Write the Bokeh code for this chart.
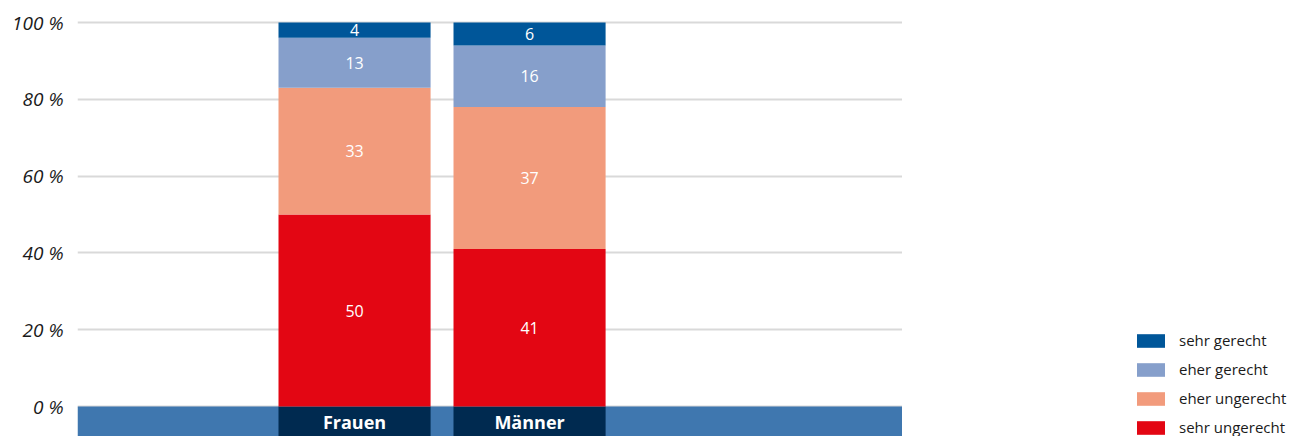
import numpy as np
from bokeh.plotting import figure
from bokeh.layouts import row
from bokeh.models import (ColumnDataSource, Range1d, FixedTicker, PrintfTickFormatter,
                          Legend, LegendItem)
from bokeh.core.properties import value
from bokeh.embed import file_html
from bokeh.resources import INLINE

# ---- data ----
categories = ["Frauen", "Männer"]
sehr_ungerecht = [50, 41]
eher_ungerecht = [33, 37]
eher_gerecht = [13, 16]
sehr_gerecht = [4, 6]
series_names = ["sehr ungerecht", "eher ungerecht", "eher gerecht", "sehr gerecht"]
series_colors = ["#E30613", "#F29B7C", "#869FCB", "#005699"]
y_ticks = [0, 20, 40, 60, 80, 100]

FONT = "Open Sans"
band_bottom = -7.81
x_start, x_end = -1.583, 3.131
bar_w = 0.869

xs = np.arange(len(categories))
src = ColumnDataSource(dict(
    x=xs,
    s0=sehr_ungerecht, s1=eher_ungerecht, s2=eher_gerecht, s3=sehr_gerecht,
))

p = figure(width=902, height=436, output_backend="svg", toolbar_location=None,
           x_range=Range1d(x_start, x_end), y_range=Range1d(band_bottom, 105.73),
           min_border_left=77, min_border_right=0, min_border_top=0, min_border_bottom=0)
p.outline_line_color = None
p.background_fill_color = "white"
p.border_fill_color = "white"

p.xaxis.visible = False
p.xgrid.visible = False
p.ygrid.ticker = FixedTicker(ticks=y_ticks)
p.ygrid.grid_line_color = "#D9D9D9"
p.ygrid.grid_line_width = 2

ya = p.yaxis[0]
ya.ticker = FixedTicker(ticks=y_ticks)
ya.formatter = PrintfTickFormatter(format="%d %%")
ya.axis_line_color = None
ya.major_tick_line_color = None
ya.minor_tick_line_color = None
ya.major_label_standoff = 8
ya.major_label_text_font = FONT
ya.major_label_text_font_style = "italic"
ya.major_label_text_font_size = "19px"
ya.major_label_text_color = "#1a1a1a"

# bottom band
p.quad(left=[x_start], right=[x_end], top=[0], bottom=[band_bottom],
       fill_color="#3F77AF", line_color=None)
p.vbar(x=xs, top=0, bottom=band_bottom, width=bar_w, fill_color="#002A50", line_color=None)

renderers = p.vbar_stack(["s0", "s1", "s2", "s3"], x="x", width=bar_w, source=src,
                         fill_color=series_colors, line_color=None)

# segment value labels
vals = np.array([sehr_ungerecht, eher_ungerecht, eher_gerecht, sehr_gerecht], dtype=float)
bottoms = np.vstack([np.zeros(len(categories)), np.cumsum(vals, axis=0)[:-1]])
centers = bottoms + vals / 2
lx, ly, lt = [], [], []
for i in range(vals.shape[0]):
    for j in range(vals.shape[1]):
        lx.append(xs[j]); ly.append(centers[i, j]); lt.append(str(int(vals[i, j])))
p.text(x=lx, y=ly, text=lt, text_align="center", text_baseline="middle",
       text_color="white", text_font=value(FONT), text_font_size="16px")

# category labels in band
p.text(x=xs, y=[band_bottom / 2] * len(categories), text=categories,
       text_align="center", text_baseline="middle", text_color="white",
       text_font=value(FONT), text_font_size="18px", text_font_style="bold")

# ---- legend panel (separate figure to the right) ----
lg = figure(width=404, height=436, output_backend="svg", toolbar_location=None,
            x_range=Range1d(0, 1), y_range=Range1d(0, 1),
            min_border_left=0, min_border_right=0, min_border_top=0, min_border_bottom=0)
lg.axis.visible = False
lg.grid.visible = False
lg.outline_line_color = None
# dummy renderers (data outside the visible range) only to provide legend swatches
lg_src = ColumnDataSource(dict(x=[-10.0], top=[-10.0]))
lg_renderers = [lg.vbar(x="x", top="top", bottom=-11.0, width=0.1, source=lg_src,
                        fill_color=c, line_color=None) for c in series_colors]
items = [LegendItem(label=series_names[i], renderers=[lg_renderers[i]]) for i in range(3, -1, -1)]
legend = Legend(items=items, location=(231, -1), orientation="vertical",
                glyph_width=35, glyph_height=17, label_height=17, spacing=9,
                label_standoff=11, padding=0, margin=0,
                label_text_font=FONT, label_text_font_size="15px", label_text_color="#1a1a1a",
                border_line_color=None, background_fill_alpha=0)
lg.add_layout(legend)

layout = row(p, lg, spacing=0)
open("out.html", "w").write(file_html(layout, INLINE))
